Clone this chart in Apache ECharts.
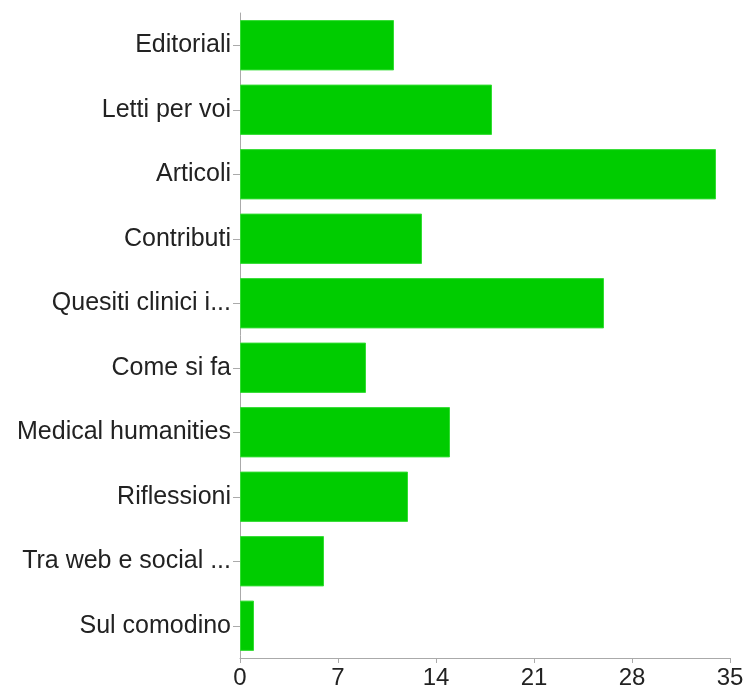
<!DOCTYPE html>
<html><head><meta charset="utf-8">
<script src="https://cdn.jsdelivr.net/npm/echarts@6/dist/echarts.min.js"></script>
<style>html,body{margin:0;padding:0;background:#fff}#c{width:748px;height:691px}</style>
</head><body><div id="c"></div>
<script>
const categories = ["Editoriali","Letti per voi","Articoli","Contributi","Quesiti clinici i...","Come si fa","Medical humanities","Riflessioni","Tra web e social ...","Sul comodino"];
const values = [11,18,34,13,26,9,15,12,6,1];
const xTicks = {min:0,max:35,interval:7};
const chart = echarts.init(document.getElementById('c'));
const font = "Liberation Sans, Helvetica, Arial, sans-serif";
chart.setOption({
  animation:false,
  grid:{left:240,right:18,top:13,bottom:33,containLabel:false},
  xAxis:{type:'value',min:xTicks.min,max:xTicks.max,interval:xTicks.interval,
    axisLine:{show:true,lineStyle:{color:'#aaa',width:1}},
    axisTick:{show:true,length:5,lineStyle:{color:'#aaa'}},
    splitLine:{show:false},
    axisLabel:{color:'#222',fontSize:24,fontFamily:font,margin:8}},
  yAxis:{type:'category',data:categories,inverse:true,
    axisLine:{show:true,lineStyle:{color:'#aaa',width:1}},
    axisTick:{show:true,alignWithLabel:true,length:7,lineStyle:{color:'#aaa'}},
    axisLabel:{color:'#222',fontSize:25,fontFamily:font,margin:9,padding:[4,0,0,0]}},
  series:[{type:'bar',data:values,barCategoryGap:'22%',
    itemStyle:{color:'#00cc00',borderColor:'#33dd33',borderWidth:1}}]
});
</script></body></html>
